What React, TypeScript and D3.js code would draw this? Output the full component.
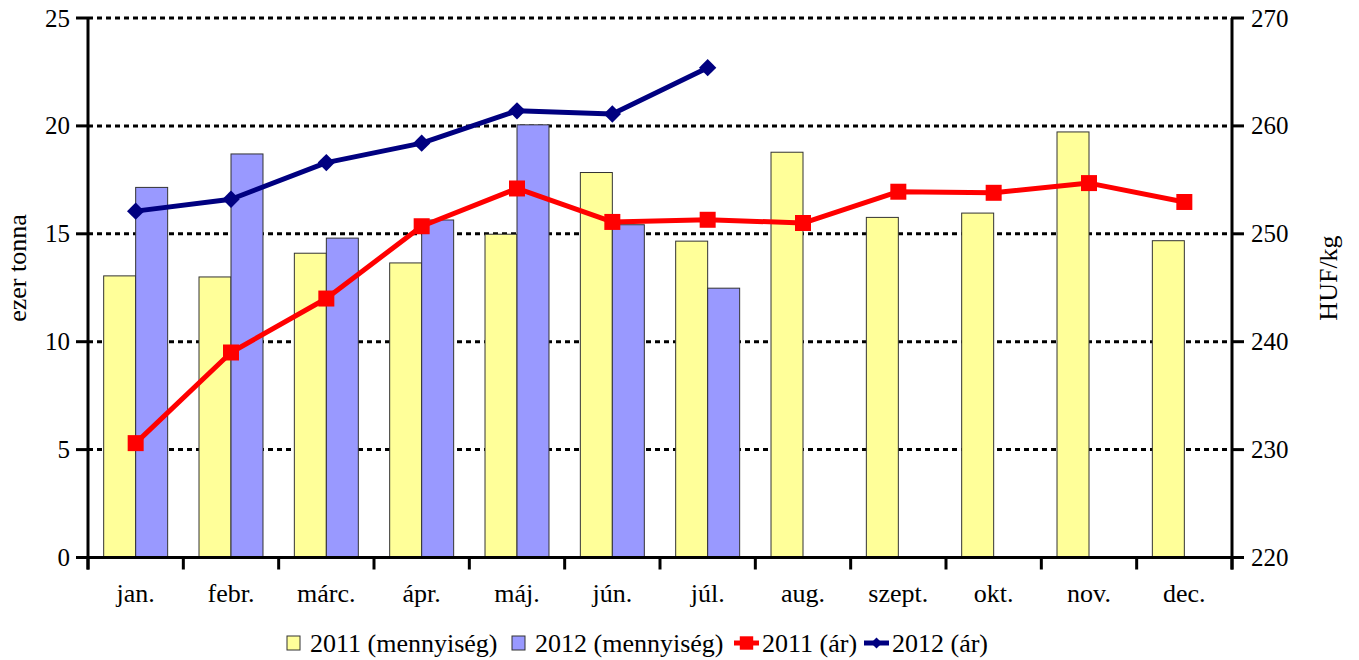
import * as d3 from "d3";
import { useEffect, useRef } from "react";

const months = ["jan.", "febr.", "márc.", "ápr.", "máj.", "jún.", "júl.", "aug.", "szept.", "okt.", "nov.", "dec."];
const qty2011 = [13.05, 13.0, 14.1, 13.65, 14.98, 17.84, 14.66, 18.78, 15.76, 15.96, 19.72, 14.68];
const qty2012 = [17.15, 18.7, 14.8, 15.64, 20.05, 15.42, 12.48];
const price2011 = [230.6, 239.0, 244.0, 250.7, 254.2, 251.1, 251.3, 251.0, 253.9, 253.8, 254.7, 252.95];
const price2012 = [252.1, 253.2, 256.6, 258.4, 261.4, 261.1, 265.4];
const leftTicks = [0, 5, 10, 15, 20, 25];
const rightTicks = [220, 230, 240, 250, 260, 270];
const seriesNames = ["2011 (mennyiség)", "2012 (mennyiség)", "2011 (ár)", "2012 (ár)"];

const FONT = "'Liberation Serif', 'Times New Roman', serif";

const App = () => {
  const svgRef = useRef<SVGSVGElement>(null);

  useEffect(() => {
    if (!svgRef.current) return;
    document.body.style.margin = "0";

    const svg = d3.select(svgRef.current);
    svg.selectAll("*").remove();

    const left = 88, right = 1232, top = 18, bottom = 557.5;

    const x = d3.scaleBand().domain(months).range([left, right]);
    const bw = x.bandwidth();
    const xSub = d3.scaleBand().domain(["2011", "2012"]).range([0, bw]).paddingOuter(0.49);
    const yL = d3.scaleLinear().domain([0, 25]).range([bottom, top]);
    const yR = d3.scaleLinear().domain([220, 270]).range([bottom, top]);

    // Grid lines
    leftTicks.filter(t => t > 0).forEach(t => {
      svg.append("line")
        .attr("x1", left).attr("x2", right)
        .attr("y1", yL(t)).attr("y2", yL(t))
        .attr("stroke", "#000")
        .attr("stroke-width", 3)
        .attr("stroke-dasharray", "5,4");
    });

    // Bars
    const bars = [
      { key: "2011", values: qty2011, color: "#FFFF99" },
      { key: "2012", values: qty2012, color: "#9999FF" },
    ];
    bars.forEach(s => {
      svg.append("g").selectAll("rect")
        .data(s.values)
        .join("rect")
        .attr("x", (_, i) => x(months[i])! + xSub(s.key)!)
        .attr("y", d => yL(d))
        .attr("width", xSub.bandwidth())
        .attr("height", d => yL(0) - yL(d))
        .attr("fill", s.color)
        .attr("stroke", "#333")
        .attr("stroke-width", 1);
    });

    // Axes lines
    const axisStyle = (sel: any) => sel.attr("stroke", "#000").attr("stroke-width", 3);
    svg.append("line").attr("x1", left).attr("x2", left).attr("y1", top).attr("y2", bottom + 12).call(axisStyle);
    svg.append("line").attr("x1", right).attr("x2", right).attr("y1", top).attr("y2", bottom + 12).call(axisStyle);
    svg.append("line").attr("x1", left - 12).attr("x2", right + 12).attr("y1", bottom).attr("y2", bottom).call(axisStyle);

    // Left ticks
    leftTicks.forEach(t => {
      svg.append("line").attr("x1", left - 12).attr("x2", left).attr("y1", yL(t)).attr("y2", yL(t)).call(axisStyle);
      svg.append("text")
        .attr("x", 70).attr("y", yL(t))
        .attr("text-anchor", "end").attr("dominant-baseline", "central")
        .attr("font-family", FONT).attr("font-size", 25)
        .text(t);
    });

    // Right ticks
    rightTicks.forEach(t => {
      svg.append("line").attr("x1", right).attr("x2", right + 12).attr("y1", yR(t)).attr("y2", yR(t)).call(axisStyle);
      svg.append("text")
        .attr("x", 1251).attr("y", yR(t))
        .attr("text-anchor", "start").attr("dominant-baseline", "central")
        .attr("font-family", FONT).attr("font-size", 25)
        .text(t);
    });

    // Bottom ticks and labels
    const boundaries = months.map(m => x(m)!).concat([right]);
    boundaries.forEach(b => {
      svg.append("line").attr("x1", b).attr("x2", b).attr("y1", bottom).attr("y2", bottom + 12).call(axisStyle);
    });
    months.forEach(m => {
      svg.append("text")
        .attr("x", x(m)! + bw / 2).attr("y", 602)
        .attr("text-anchor", "middle")
        .attr("font-family", FONT).attr("font-size", 26)
        .text(m);
    });

    // Axis titles
    svg.append("text")
      .attr("transform", `translate(26,268) rotate(-90)`)
      .attr("text-anchor", "middle")
      .attr("font-family", FONT).attr("font-size", 26)
      .text("ezer tonna");
    svg.append("text")
      .attr("transform", `translate(1337,278) rotate(-90)`)
      .attr("text-anchor", "middle")
      .attr("font-family", FONT).attr("font-size", 26)
      .text("HUF/kg");

    // Lines
    const cx = (i: number) => x(months[i])! + bw / 2;
    const line = d3.line<number>().x((_, i) => cx(i)).y(d => yR(d));

    svg.append("path").datum(price2011)
      .attr("d", line).attr("fill", "none")
      .attr("stroke", "#FF0000").attr("stroke-width", 5).attr("stroke-linejoin", "round");
    svg.append("g").selectAll("path")
      .data(price2011).join("path")
      .attr("transform", (d, i) => `translate(${cx(i)},${yR(d)})`)
      .attr("d", d3.symbol(d3.symbolSquare, 256)())
      .attr("fill", "#FF0000");

    svg.append("path").datum(price2012)
      .attr("d", line).attr("fill", "none")
      .attr("stroke", "#000080").attr("stroke-width", 5).attr("stroke-linejoin", "round");
    svg.append("g").selectAll("path")
      .data(price2012).join("path")
      .attr("transform", (d, i) => `translate(${cx(i)},${yR(d)}) rotate(45)`)
      .attr("d", d3.symbol(d3.symbolSquare, 150)())
      .attr("fill", "#000080");

    // Legend
    const ly = 643;
    const lg = svg.append("g").attr("font-family", FONT).attr("font-size", 26);
    const swatch = [
      { x: 287, color: "#FFFF99" },
      { x: 512, color: "#9999FF" },
    ];
    swatch.forEach((s, i) => {
      lg.append("rect").attr("x", s.x).attr("y", ly - 7).attr("width", 13).attr("height", 14)
        .attr("fill", s.color).attr("stroke", "#333").attr("stroke-width", 1);
      lg.append("text").attr("x", s.x + 23).attr("y", ly).attr("dominant-baseline", "central").text(seriesNames[i]);
    });
    lg.append("line").attr("x1", 734).attr("x2", 759).attr("y1", ly).attr("y2", ly)
      .attr("stroke", "#FF0000").attr("stroke-width", 5);
    lg.append("path").attr("transform", `translate(746.5,${ly})`)
      .attr("d", d3.symbol(d3.symbolSquare, 180)()).attr("fill", "#FF0000");
    lg.append("text").attr("x", 762).attr("y", ly).attr("dominant-baseline", "central").text(seriesNames[2]);
    lg.append("line").attr("x1", 864).attr("x2", 889).attr("y1", ly).attr("y2", ly)
      .attr("stroke", "#000080").attr("stroke-width", 5);
    lg.append("path").attr("transform", `translate(876.5,${ly}) rotate(45)`)
      .attr("d", d3.symbol(d3.symbolSquare, 60)()).attr("fill", "#000080");
    lg.append("text").attr("x", 892).attr("y", ly).attr("dominant-baseline", "central").text(seriesNames[3]);
  }, []);

  return (
    <svg
      ref={svgRef}
      width={1359}
      height={660}
      style={{ position: "absolute", left: 0, top: 0, background: "#fff" }}
    />
  );
};

export default App;
